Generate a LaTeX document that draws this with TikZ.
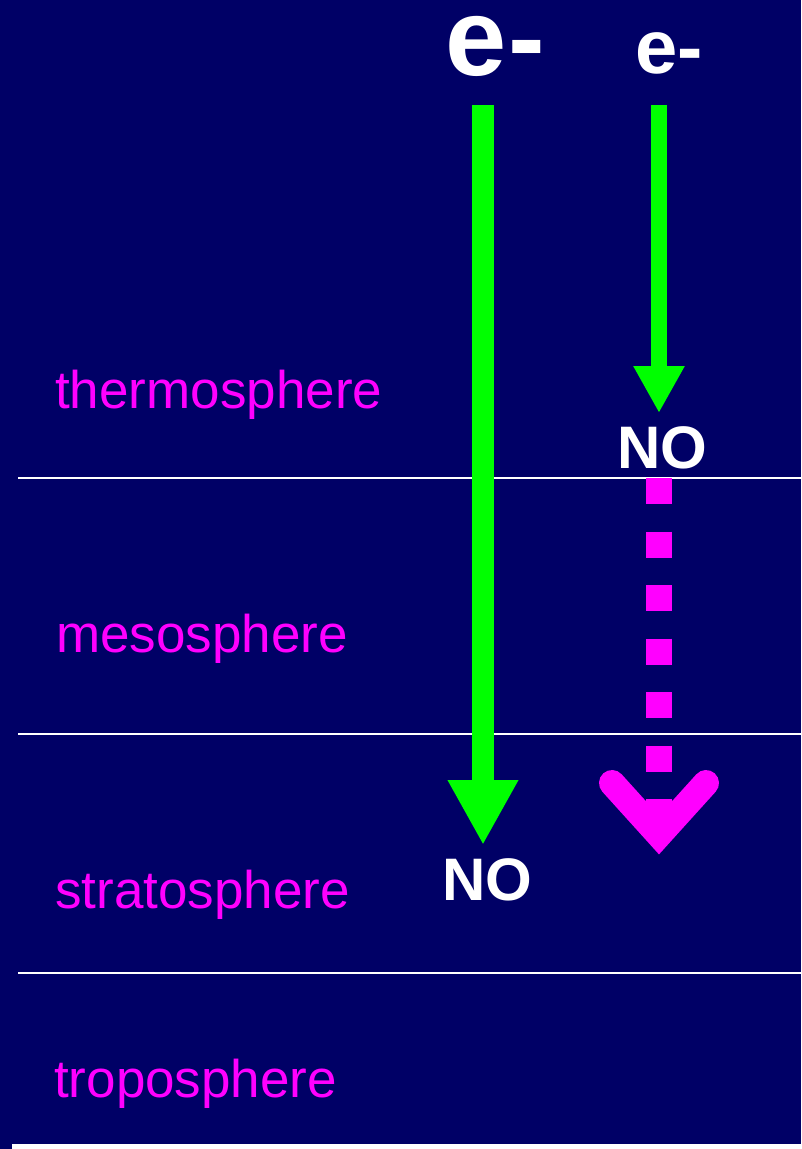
\documentclass[tikz,border=0pt]{standalone}
\usepackage{fontspec}
\setmainfont{Liberation Sans}
\usetikzlibrary{arrows.meta}
\definecolor{navy}{RGB}{0,0,102}
\definecolor{lgreen}{RGB}{0,255,0}
\definecolor{mag}{RGB}{255,0,255}
\tikzset{
  layer/.style={text=mag, font=\fontsize{53}{60}\selectfont, inner sep=0pt, anchor=base west},
  elabel/.style={text=white, font=\bfseries, inner sep=0pt, anchor=base west, text height=0.56em, text depth=0pt},
  nolabel/.style={text=white, font=\bfseries\fontsize{60}{66}\selectfont, inner sep=0pt, anchor=base},
  boundary/.style={draw=white, line width=2pt},
  bigarrow/.style={draw=lgreen, line width=22pt, -{Triangle[length=65pt,width=66pt]}},
  smallarrow/.style={draw=lgreen, line width=16pt, -{Triangle[length=47pt,width=48pt]}},
  dashedpath/.style={draw=mag, line width=26pt, dash pattern=on 26pt off 27.5pt},
  chevron/.style={draw=mag, line width=26pt, line cap=round, line join=miter}
}
\begin{document}
\begin{tikzpicture}[x=1pt,y=-1pt]
\useasboundingbox (0,0) rectangle (801,1149);
\fill[navy] (0,0) rectangle (801,1149);
% boundaries
\coordinate (b1l) at (18,478); \coordinate (b1r) at (801,478);
\coordinate (b2l) at (18,734); \coordinate (b2r) at (801,734);
\coordinate (b3l) at (18,973); \coordinate (b3r) at (801,973);
\draw[boundary] (b1l) -- (b1r);
\draw[boundary] (b2l) -- (b2r);
\draw[boundary] (b3l) -- (b3r);
\fill[white] (12,1144) rectangle (801,1149);
% layer labels
\node[layer] (thermo) at (55,408) {thermosphere};
\node[layer] (meso) at (56,652) {mesosphere};
\node[layer] (strato) at (55,908) {stratosphere};
\node[layer] (tropo) at (54,1097) {troposphere};
% electrons
\node[elabel, font=\bfseries\fontsize{110}{114}\selectfont] (e1) at (445,75) {e\kern2pt-};
\node[elabel, font=\bfseries\fontsize{76}{80}\selectfont] (e2) at (635,73) {e-};
% NO labels
\node[nolabel] (no1) at (487,900) {NO};
\node[nolabel] (no2) at (662,468) {NO};
% arrows
\coordinate (a1s) at (483,105); \coordinate (a1e) at (483,845);
\coordinate (a2s) at (659,105); \coordinate (a2e) at (659,413);
\draw[bigarrow] (a1s) -- (a1e);
\draw[smallarrow] (a2s) -- (a2e);
% magenta dashed arrow
\coordinate (m1) at (659,478);
\coordinate (mtip) at (659,835);
\coordinate (ml) at (612,783);
\coordinate (mr) at (706,783);
\draw[dashedpath] (m1) -- (mtip);
\draw[chevron] (ml) -- (mtip) -- (mr);
\end{tikzpicture}
\end{document}
